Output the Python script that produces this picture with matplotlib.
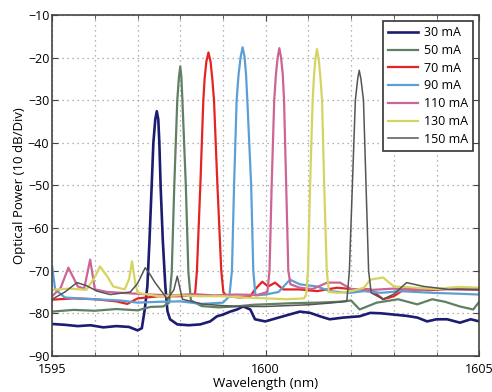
import matplotlib
matplotlib.use("Agg")
import matplotlib.pyplot as plt
from matplotlib.ticker import MultipleLocator

plt.rcParams['font.family'] = ['Open Sans', 'DejaVu Sans']

# valores: longitud de onda (nm) y potencia (dBm)
wl_30 = [1595.0, 1595.3, 1595.6, 1595.9, 1596.2, 1596.5, 1596.8, 1597.0, 1597.1, 1597.17,
         1597.23, 1597.28, 1597.33, 1597.37, 1597.415, 1597.45, 1597.485, 1597.51, 1597.54, 1597.59,
         1597.65, 1597.7, 1597.76, 1597.93, 1598.2, 1598.47, 1598.7, 1598.86, 1599.0, 1599.17,
         1599.33, 1599.47, 1599.64, 1599.75, 1599.99, 1600.2, 1600.41, 1600.8, 1601.04, 1601.3,
         1601.5, 1601.82, 1602.2, 1602.45, 1602.7, 1603.0, 1603.3, 1603.55, 1603.78, 1604.0,
         1604.25, 1604.55, 1604.8, 1605.0]
p_30 = [-82.5, -82.7, -83.0, -82.8, -83.3, -83.0, -83.2, -84.0, -83.5, -79.0,
        -73.6, -62.7, -50.2, -40.0, -34.5, -32.6, -34.5, -40.0, -50.2, -62.7,
        -73.6, -79.5, -81.4, -82.6, -82.8, -82.6, -81.9, -80.7, -80.3, -79.6,
        -79.1, -78.4, -79.1, -81.4, -81.9, -81.3, -80.7, -79.6, -79.9, -80.8,
        -81.4, -81.0, -80.7, -79.9, -80.0, -80.3, -80.6, -81.0, -81.9, -81.4,
        -81.4, -82.2, -81.4, -81.9]

wl_50 = [1595.0, 1595.5, 1596.0, 1596.5, 1597.0, 1597.3, 1597.6, 1597.74, 1597.80, 1597.86,
         1597.93, 1597.97, 1598.0, 1598.025, 1598.05, 1598.13, 1598.19, 1598.25, 1598.5, 1598.9,
         1599.3, 1599.7, 1600.2, 1600.7, 1601.2, 1601.7, 1602.0, 1602.2, 1602.6, 1603.1,
         1603.55, 1603.9, 1604.2, 1604.55, 1604.86, 1605.0]
p_50 = [-79.6, -79.2, -79.4, -79.0, -79.3, -78.5, -78.4, -77.5, -70.4, -50.0,
        -30.0, -24.5, -22.1, -24.5, -30.0, -50.0, -70.4, -77.0, -78.3, -78.6,
        -78.4, -78.0, -77.8, -77.6, -77.5, -77.3, -77.0, -79.1, -77.5, -76.7,
        -77.9, -76.7, -77.3, -78.4, -79.1, -77.3]

wl_70 = [1595.0, 1595.5, 1596.0, 1596.5, 1596.76, 1597.0, 1597.5, 1598.0, 1598.3, 1598.35,
         1598.39, 1598.47, 1598.54, 1598.57, 1598.61, 1598.66, 1598.71, 1598.75, 1598.79, 1598.87,
         1598.96, 1599.01, 1599.1, 1599.4, 1599.64, 1599.75, 1599.92, 1600.06, 1600.22, 1600.41,
         1600.8, 1601.2, 1601.67, 1602.0, 1602.45, 1602.75, 1603.0, 1603.3, 1603.8, 1604.4,
         1605.0]
p_70 = [-76.8, -76.5, -76.7, -77.2, -77.8, -76.5, -76.0, -76.0, -75.8, -75.1,
        -70.0, -50.0, -30.0, -25.0, -21.0, -18.8, -21.0, -25.0, -30.0, -50.0,
        -70.0, -75.1, -76.0, -76.3, -76.0, -74.4, -72.6, -73.7, -72.8, -74.4,
        -74.4, -74.8, -74.0, -74.3, -74.4, -76.7, -76.0, -74.0, -74.6, -74.2,
        -74.5]

wl_90 = [1595.0, 1595.07, 1595.3, 1596.0, 1596.6, 1597.0, 1597.5, 1598.0, 1598.5, 1599.0,
         1599.15, 1599.21, 1599.26, 1599.32, 1599.365, 1599.415, 1599.46, 1599.505, 1599.54, 1599.57,
         1599.66, 1599.71, 1599.76, 1600.0, 1600.3, 1600.57, 1600.8, 1601.2, 1601.5, 1601.98,
         1602.3, 1602.7, 1603.15, 1603.9, 1604.5, 1605.0]
p_90 = [-69.0, -74.4, -76.3, -76.7, -77.0, -77.5, -77.3, -77.2, -77.8, -77.5,
        -76.0, -70.0, -50.0, -30.0, -24.0, -19.8, -17.6, -19.8, -24.0, -30.0,
        -50.0, -70.0, -75.8, -75.6, -75.0, -72.1, -73.2, -73.7, -74.8, -75.2,
        -74.8, -75.2, -74.8, -75.2, -75.4, -75.6]

wl_110 = [1595.0, 1595.2, 1595.38, 1595.6, 1595.75, 1595.89, 1596.0, 1596.3, 1596.8, 1597.3,
          1597.8, 1598.3, 1598.8, 1599.3, 1599.8, 1600.04, 1600.09, 1600.14, 1600.20, 1600.24,
          1600.28, 1600.32, 1600.36, 1600.40, 1600.43, 1600.48, 1600.53, 1600.58, 1600.8, 1601.1,
          1601.44, 1601.74, 1602.0, 1602.5, 1603.0, 1603.5, 1604.0, 1604.5, 1605.0]
p_110 = [-76.0, -74.0, -69.3, -73.7, -74.2, -67.4, -74.4, -75.0, -75.3, -75.6,
         -75.8, -75.5, -75.8, -75.6, -75.7, -75.0, -70.0, -50.0, -30.0, -24.0,
         -20.0, -17.8, -20.0, -24.0, -30.0, -50.0, -70.0, -73.2, -74.0, -74.3,
         -72.8, -72.8, -74.3, -74.5, -74.2, -74.6, -74.3, -74.4, -74.4]

wl_130 = [1595.0, 1595.4, 1595.8, 1596.0, 1596.12, 1596.3, 1596.43, 1596.7, 1596.8, 1596.87,
          1596.94, 1597.0, 1597.5, 1598.0, 1598.5, 1599.0, 1599.5, 1600.0, 1600.5, 1600.9,
          1600.95, 1600.99, 1601.04, 1601.10, 1601.13, 1601.165, 1601.20, 1601.24, 1601.28, 1601.32,
          1601.37, 1601.43, 1601.48, 1601.7, 1602.0, 1602.3, 1602.45, 1602.75, 1603.0, 1603.5,
          1604.0, 1604.5, 1605.0]
p_130 = [-74.5, -74.2, -74.5, -71.5, -69.0, -71.5, -73.7, -74.4, -72.0, -67.8,
         -72.5, -75.2, -76.0, -75.8, -76.0, -76.0, -76.3, -76.5, -76.7, -76.5,
         -75.5, -70.0, -50.0, -30.0, -24.5, -20.2, -18.0, -20.2, -24.5, -30.0,
         -50.0, -70.0, -75.0, -75.2, -74.8, -74.0, -72.1, -71.6, -73.7, -74.0,
         -74.3, -73.8, -74.0]

wl_150 = [1595.0, 1595.3, 1595.58, 1595.8, 1596.05, 1596.36, 1596.83, 1597.0, 1597.18, 1597.3,
          1597.41, 1597.7, 1597.85, 1597.93, 1598.0, 1598.05, 1598.5, 1599.0, 1599.5, 1600.0,
          1600.5, 1601.0, 1601.5, 1601.9, 1601.96, 1602.03, 1602.10, 1602.155, 1602.19, 1602.23,
          1602.29, 1602.35, 1602.41, 1602.47, 1602.75, 1603.0, 1603.3, 1603.7, 1604.3, 1605.0]
p_150 = [-76.7, -75.0, -72.8, -73.5, -74.8, -75.6, -75.0, -73.0, -69.3, -71.0,
         -72.8, -76.7, -74.5, -71.3, -74.5, -76.7, -77.8, -78.2, -78.4, -78.4,
         -78.2, -78.0, -77.6, -77.2, -70.0, -50.0, -30.0, -25.0, -23.0, -25.0,
         -30.0, -50.0, -70.0, -75.2, -76.7, -75.5, -72.8, -73.7, -74.4, -74.4]

etiquetas = ['30 mA', '50 mA', '70 mA', '90 mA', '110 mA', '130 mA', '150 mA']
colores = ['#1c1c70', '#5f8063', '#e32424', '#5c9fd6', '#cc6494', '#d6d460', '#555555']
grosores = [1.9, 1.6, 1.6, 1.6, 1.6, 1.6, 1.1]
series = [(wl_30, p_30), (wl_50, p_50), (wl_70, p_70), (wl_90, p_90),
          (wl_110, p_110), (wl_130, p_130), (wl_150, p_150)]

fig = plt.figure(figsize=(4.92, 3.92), dpi=100)
ax = fig.add_axes([0.106, 0.092, 0.868, 0.870])

for (x, y), lab, c, lw in zip(series, etiquetas, colores, grosores):
    ax.plot(x, y, color=c, lw=lw, label=lab, solid_joinstyle='round')

ax.set_xlim(1595, 1605)
ax.set_ylim(-90, -10)
ax.xaxis.set_major_locator(MultipleLocator(5))
ax.xaxis.set_minor_locator(MultipleLocator(1))
ax.yaxis.set_major_locator(MultipleLocator(10))
ax.grid(True, which='both', axis='x', color='#9a9a9a', linestyle=(0, (1, 3)), lw=0.9)
ax.grid(True, which='major', axis='y', color='#9a9a9a', linestyle=(0, (1, 3)), lw=0.9)
ax.tick_params(which='both', direction='in', top=True, right=True, labelsize=9,
               color='#444444', pad=2)
ax.tick_params(axis='x', which='both', pad=5)
ax.tick_params(which='major', length=4)
ax.tick_params(which='minor', length=3)
for s in ax.spines.values():
    s.set_color('#444444')
    s.set_linewidth(1.2)

ax.set_xlabel('Wavelength (nm)', fontsize=9.5, labelpad=1)
ax.set_ylabel('Optical Power (10 dB/Div)', fontsize=9.5, labelpad=1)

leg = ax.legend(loc='upper right', fontsize=9, fancybox=False, framealpha=1,
                edgecolor='#333333', handlelength=2.4, borderaxespad=0.5,
                labelspacing=0.38, handletextpad=0.5)
leg.get_frame().set_linewidth(1.2)

fig.savefig('out.png', dpi=100, facecolor='white')
